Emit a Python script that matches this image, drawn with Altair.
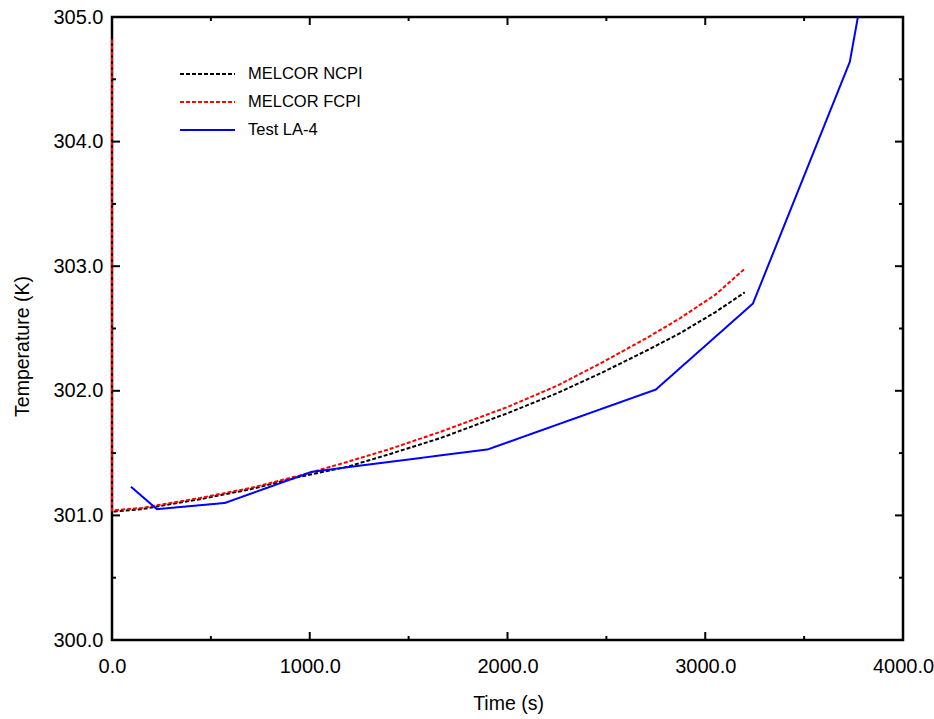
import altair as alt
import pandas as pd

# ---- data ----
ncpi_t = [0, 0, 150, 445, 700, 950, 1190, 1400, 1660, 2000, 2250, 2470, 2700, 2870, 3050, 3200]
ncpi_T = [304.82, 301.03, 301.05, 301.13, 301.21, 301.31, 301.39, 301.49, 301.62, 301.82,
          301.98, 302.14, 302.32, 302.46, 302.63, 302.79]

fcpi_t = [0, 0, 150, 445, 700, 950, 1170, 1400, 1660, 2000, 2250, 2470, 2700, 2870, 3050, 3200]
fcpi_T = [304.82, 301.04, 301.06, 301.14, 301.22, 301.32, 301.42, 301.53, 301.67, 301.87,
          302.04, 302.22, 302.42, 302.58, 302.77, 302.98]

la4_t = [96, 227, 571, 1011, 1901, 2750, 3241, 3731, 3772]
la4_T = [301.23, 301.05, 301.10, 301.35, 301.53, 302.01, 302.70, 304.64, 305.0]

series = ["MELCOR NCPI", "MELCOR FCPI", "Test LA-4"]
colors = ["#000000", "#ff0000", "#0000ff"]
dashes = [[4, 2], [4, 2], [1, 0]]

x_major = [0, 1000, 2000, 3000, 4000]
x_minor = [500, 1500, 2500, 3500]
y_major = [300, 301, 302, 303, 304, 305]
y_minor = [300.5, 301.5, 302.5, 303.5, 304.5]

W, H = 791, 623
FONT = "Liberation Sans"

rows = []
for name, ts, Ts in [(series[0], ncpi_t, ncpi_T), (series[1], fcpi_t, fcpi_T), (series[2], la4_t, la4_T)]:
    for i, (t, T) in enumerate(zip(ts, Ts)):
        rows.append({"series": name, "time": t, "temp": T, "idx": i})
df = pd.DataFrame(rows)

xscale = alt.Scale(domain=[0, 4000], nice=False, zero=False)
yscale = alt.Scale(domain=[300, 305], nice=False, zero=False)

xaxis = alt.Axis(
    values=x_major, format=".1f", ticks=False, domain=False, grid=False,
    labelFontSize=20, labelFont=FONT, labelColor="black", labelPadding=16,
    labelFlush=False,
    title="Time (s)", titleFontSize=19.5, titleFont=FONT, titleFontWeight="normal",
    titleColor="black", titleX=396, titleY=63, titleBaseline="middle", titleAlign="center")
yaxis = alt.Axis(
    values=y_major, format=".1f", ticks=False, domain=False, grid=False,
    labelFontSize=20, labelFont=FONT, labelColor="black", labelPadding=9,
    title="Temperature (K)", titleFontSize=19.5, titleFont=FONT, titleFontWeight="normal",
    titleColor="black", titleX=-90, titleY=329, titleAngle=270,
    titleBaseline="middle", titleAlign="center")

X = alt.X("time:Q", scale=xscale, axis=xaxis, title="Time (s)")
Y = alt.Y("temp:Q", scale=yscale, axis=yaxis, title="Temperature (K)")

legend = alt.Legend(
    orient="none", legendX=67, legendY=47, title=None,
    symbolType="stroke", symbolSize=3025, symbolStrokeWidth=2,
    labelFontSize=16.5, labelFont=FONT, labelColor="black",
    clipHeight=20, rowPadding=8, labelOffset=12, padding=0,
)

lines = alt.Chart(df).mark_line(strokeWidth=2).encode(
    x=X, y=Y,
    color=alt.Color("series:N", scale=alt.Scale(domain=series, range=colors), legend=legend),
    strokeDash=alt.StrokeDash("series:N", scale=alt.Scale(domain=series, range=dashes), legend=legend),
    order="idx:Q",
)


def xticks(vals, length, top):
    d = pd.DataFrame({"time": vals})
    if top:
        yv, y2v = alt.value(0), alt.value(length)
    else:
        yv, y2v = alt.value(H), alt.value(H - length)
    return alt.Chart(d).mark_rule(color="black", strokeWidth=2).encode(x=X, y=yv, y2=y2v)


def yticks(vals, length, right):
    d = pd.DataFrame({"temp": vals})
    if right:
        xv, x2v = alt.value(W), alt.value(W - length)
    else:
        xv, x2v = alt.value(0), alt.value(length)
    return alt.Chart(d).mark_rule(color="black", strokeWidth=2).encode(y=Y, x=xv, x2=x2v)


tick_layers = []
for top in (False, True):
    tick_layers.append(xticks(x_major, 8, top))
    tick_layers.append(xticks(x_minor, 4, top))
for right in (False, True):
    tick_layers.append(yticks(y_major, 8, right))
    tick_layers.append(yticks(y_minor, 4, right))

chart = alt.layer(lines, *tick_layers).properties(
    width=W, height=H,
    autosize=alt.AutoSizeParams(type="none"),
    padding={"left": 112, "top": 17, "right": 31, "bottom": 79},
    background="white",
).configure_view(stroke="black", strokeWidth=2.5)

chart.save("out.html", embed_options={"renderer": "svg", "actions": False})
